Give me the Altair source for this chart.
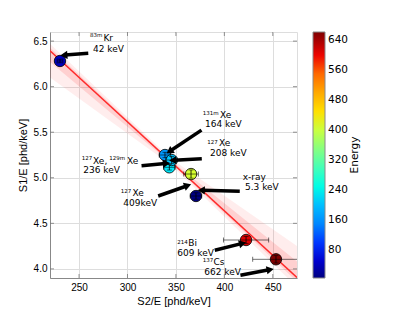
import math
import altair as alt
import pandas as pd

# ---- data ----
energy = [42, 164, 236, 208, 409, 5.3, 609, 662]
s2e = [230.3, 338.7, 343.2, 345.6, 365.6, 370.7, 422.4, 453.3]
s1e = [6.282, 5.250, 5.115, 5.195, 5.041, 4.800, 4.317, 4.105]
s2e_err = [3, 6, 6, 6, 7.5, 6, 23.4, 24]
s1e_err = [0.02, 0.03, 0.03, 0.04, 0.045, 0.035, 0.04, 0.04]

fit_x = [220, 475]
fit_y = [6.394, 3.905]

band_x = [220, 345, 475]
outer_lo = [6.10, 5.14, 3.80]
outer_hi = [6.47, 5.21, 4.25]
inner_lo = [6.27, 5.16, 3.86]
inner_hi = [6.43, 5.19, 4.08]

# arrows: tail -> head
arr_tx = [259.5, 376.4, 376.7, 314.5, 331.7, 415.9, 390.1, 416.6]
arr_ty = [6.366, 5.523, 5.210, 5.131, 4.800, 4.852, 4.204, 3.930]
arr_hx = [235.5, 344.4, 348.0, 339.0, 361.0, 377.4, 417.6, 446.1]
arr_hy = [6.347, 5.296, 5.193, 5.157, 4.910, 4.863, 4.277, 3.990]

# annotation main text
main_text = ["Kr", "42 keV", "Xe", "164 keV", "Xe", "208 keV",
             "Xe,", "Xe", "236 keV", "Xe", "409keV", "x-ray", "5.3 keV",
             "Bi", "609 keV", "Cs", "662 keV"]
main_x = [275.2, 264.4, 395.5, 380.0, 394.5, 385.2,
          264.5, 299.5, 254.4, 305.2, 295.7, 418.9, 421.3,
          362.8, 351.4, 388.8, 379.3]
main_y = [6.534, 6.413, 5.689, 5.587, 5.378, 5.268,
          5.187, 5.187, 5.085, 4.829, 4.719, 5.005, 4.902,
          4.280, 4.170, 4.078, 3.968]

# superscripts
sup_text = ["83m", "131m", "127", "127", "129m", "127", "214", "137"]
sup_x = [261.3, 377.6, 382.4, 252.7, 281.2, 293.0, 351.4, 377.6]
sup_y = [6.567, 5.708, 5.396, 5.214, 5.214, 4.858, 4.298, 4.097]

x_ticks = [250, 300, 350, 400, 450]
y_ticks = [4.0, 4.5, 5.0, 5.5, 6.0, 6.5]
cbar_ticks = [80, 160, 240, 320, 400, 480, 560, 640]

# jet colormap stops
jet_frac = [0, 0.11, 0.125, 0.34, 0.375, 0.64, 0.66, 0.89, 0.91, 1]
jet_col = ["#000080", "#0000ff", "#0000ff", "#00dbff", "#15ffe2",
           "#eeff08", "#ffec00", "#ff1300", "#e80000", "#800000"]
e_min, e_max = 5.3, 662
jet_dom = [e_min + f * (e_max - e_min) for f in jet_frac]

W, H = 247, 246
XD = [220, 475]
YD = [3.9, 6.6]
FONT = "DejaVu Sans"

xs = alt.Scale(domain=XD, nice=False, zero=False)
ys = alt.Scale(domain=YD, nice=False, zero=False)

pts = pd.DataFrame({"x": s2e, "y": s1e, "E": energy,
                    "xe": s2e_err, "ye": s1e_err, "o": list(range(len(s2e)))})
pts["xl"] = pts.x - pts.xe
pts["xh"] = pts.x + pts.xe
pts["yl"] = pts.y - pts.ye
pts["yh"] = pts.y + pts.ye

band = pd.DataFrame({"x": band_x, "olo": outer_lo, "ohi": outer_hi,
                     "ilo": inner_lo, "ihi": inner_hi})
fit = pd.DataFrame({"x": fit_x, "y": fit_y})

arr = pd.DataFrame({"tx": arr_tx, "ty": arr_ty, "hx": arr_hx, "hy": arr_hy})
def ang(r):
    dx = (r.hx - r.tx) * W / (XD[1] - XD[0])
    dy = -(r.hy - r.ty) * H / (YD[1] - YD[0])
    return math.degrees(math.atan2(dx, -dy)) % 360
arr["ang"] = arr.apply(ang, axis=1)

mt = pd.DataFrame({"t": main_text, "x": main_x, "y": main_y})
st = pd.DataFrame({"t": sup_text, "x": sup_x, "y": sup_y})
xt = pd.DataFrame({"v": x_ticks})
yt = pd.DataFrame({"v": y_ticks})

X = lambda f, **k: alt.X(f, scale=xs, **k)
Y = lambda f, **k: alt.Y(f, scale=ys, **k)

outer = alt.Chart(band).mark_area(color="#ff0000", opacity=0.07, clip=True).encode(
    x=X("x:Q", title="S2/E [phd/keV]",
        axis=alt.Axis(values=x_ticks, tickSize=0, labelPadding=4, titlePadding=3,
                      titleFontWeight="normal")),
    y=Y("olo:Q", title="S1/E [phd/keV]",
        axis=alt.Axis(values=y_ticks, tickSize=0, labelPadding=3, titlePadding=5,
                      format=".1f", titleFontWeight="normal")),
    y2="ohi:Q")
inner = alt.Chart(band).mark_area(color="#ff0000", opacity=0.12, clip=True).encode(
    x=X("x:Q"), y=Y("ilo:Q"), y2="ihi:Q")
line = alt.Chart(fit).mark_line(color="#ff2a2a", strokeWidth=1.5, clip=True).encode(
    x=X("x:Q"), y=Y("y:Q"))

points = alt.Chart(pts).mark_circle(size=130, opacity=1, stroke="black",
                                    strokeWidth=0.8).encode(
    x=X("x:Q"), y=Y("y:Q"),
    order="o:Q",
    color=alt.Color("E:Q", scale=alt.Scale(domain=jet_dom, range=jet_col),
                    legend=alt.Legend(title=None, orient="none", legendX=263,
                                      legendY=0, direction="vertical",
                                      gradientLength=H, gradientThickness=12,
                                      gradientStrokeColor="#888",
                                      gradientStrokeWidth=1,
                                      values=cbar_ticks, labelOffset=3,
                                      labelFontSize=10.5, labelFont=FONT,
                                      labelColor="black")))

xerr = alt.Chart(pts).mark_rule(color="black", strokeWidth=0.8, opacity=0.7, clip=True).encode(
    x=X("xl:Q"), x2="xh:Q", y=Y("y:Q"))
yerr = alt.Chart(pts).mark_rule(color="black", strokeWidth=0.8, clip=True).encode(
    x=X("x:Q"), y=Y("yl:Q"), y2="yh:Q")
capl = alt.Chart(pts).mark_tick(color="black", orient="vertical", size=5,
                                thickness=0.8, opacity=0.7, clip=True).encode(
    x=X("xl:Q"), y=Y("y:Q"))
caph = alt.Chart(pts).mark_tick(color="black", orient="vertical", size=5,
                                thickness=0.8, opacity=0.7, clip=True).encode(
    x=X("xh:Q"), y=Y("y:Q"))
capb = alt.Chart(pts).mark_tick(color="black", orient="horizontal", size=5,
                                thickness=0.8).encode(x=X("x:Q"), y=Y("yl:Q"))
capt = alt.Chart(pts).mark_tick(color="black", orient="horizontal", size=5,
                                thickness=0.8).encode(x=X("x:Q"), y=Y("yh:Q"))

shafts = alt.Chart(arr).mark_rule(color="black", strokeWidth=3.5).encode(
    x=X("tx:Q"), y=Y("ty:Q"), x2="hx:Q", y2="hy:Q")
heads = alt.Chart(arr).mark_point(shape="triangle", filled=True, color="black",
                                  size=70, opacity=1).encode(
    x=X("hx:Q"), y=Y("hy:Q"), angle=alt.Angle("ang:Q", scale=None))

mtext = alt.Chart(mt).mark_text(align="left", baseline="middle", fontSize=9,
                                font=FONT, color="black").encode(
    x=X("x:Q"), y=Y("y:Q"), text="t:N")
stext = alt.Chart(st).mark_text(align="left", baseline="middle", fontSize=5.5,
                                font=FONT, color="black").encode(
    x=X("x:Q"), y=Y("y:Q"), text="t:N")

tk = dict(color="#777", strokeWidth=0.8)
xtb = alt.Chart(xt).mark_rule(**tk).encode(x=X("v:Q"), y=alt.value(H), y2=alt.value(H - 4))
xtt = alt.Chart(xt).mark_rule(**tk).encode(x=X("v:Q"), y=alt.value(0), y2=alt.value(4))
ytl = alt.Chart(yt).mark_rule(**tk).encode(y=Y("v:Q"), x=alt.value(0), x2=alt.value(4))
ytr = alt.Chart(yt).mark_rule(**tk).encode(y=Y("v:Q"), x=alt.value(W), x2=alt.value(W - 4))

etitle = alt.Chart(pd.DataFrame({"t": ["Energy"]})).mark_text(
    angle=270, fontSize=10.5, font=FONT, color="black", baseline="middle").encode(
    x=alt.value(305), y=alt.value(H / 2), text="t:N")

chart = alt.layer(outer, inner, line, points, xerr, yerr, capl, caph, capb, capt,
                  shafts, heads, mtext, stext, xtb, xtt, ytl, ytr, etitle).properties(
    width=W, height=H,
    autosize=alt.AutoSizeParams(type="none"),
    padding={"left": 42, "top": 24, "right": 94, "bottom": 33},
).configure_view(stroke="#888", strokeWidth=1).configure_axis(
    grid=False, domainColor="#888", domainWidth=1,
    labelFont=FONT, titleFont=FONT, labelFontSize=10.5, titleFontSize=10.5,
    labelColor="black", titleColor="black", titleFontWeight="normal"
).configure(background="white")

chart.save("out.html", embed_options={"renderer": "svg", "actions": False})
